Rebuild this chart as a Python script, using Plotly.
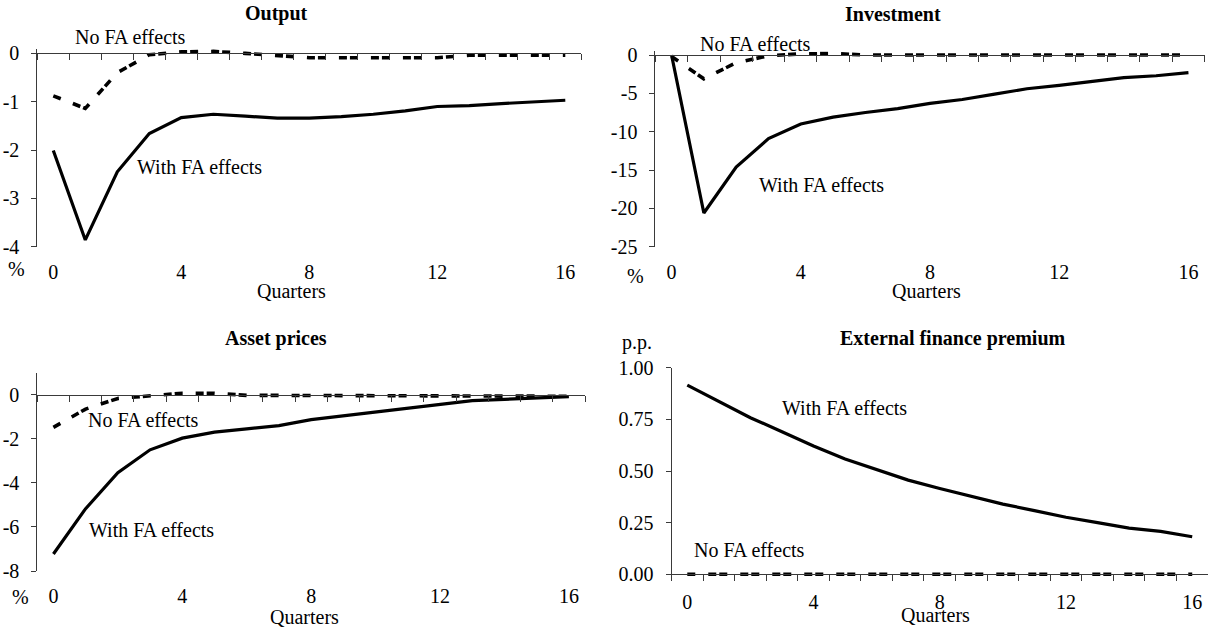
import plotly.graph_objects as go

W, H = 1208, 627
FONT = "Liberation Serif"
AXIS_COLOR = "#3a3a3a"

quarters = list(range(17))
x_tick_vals = [0, 4, 8, 12, 16]
x_tick_text = ["0", "4", "8", "12", "16"]
# category boundaries where the small ticks sit on the zero line
boundary_ticks = [q - 0.5 for q in range(18)]

# Output, % deviation
output_with_fa = [-2.01, -3.86, -2.45, -1.66, -1.33, -1.26, -1.30, -1.34, -1.34,
                  -1.31, -1.26, -1.19, -1.10, -1.08, -1.04, -1.01, -0.97]
output_no_fa = [-0.88, -1.14, -0.40, -0.03, 0.03, 0.04, 0.00, -0.05, -0.09,
                -0.09, -0.09, -0.09, -0.09, -0.04, -0.04, -0.04, -0.04]
output_y_ticks = [0, -1, -2, -3, -4]
output_y_text = ["0", "-1", "-2", "-3", "-4"]

# Investment, % deviation
invest_with_fa = [0.0, -20.6, -14.6, -10.9, -9.0, -8.1, -7.5, -7.0, -6.3,
                  -5.8, -5.1, -4.4, -3.95, -3.4, -2.95, -2.7, -2.3]
invest_no_fa = [-0.2, -3.1, -1.0, -0.1, 0.15, 0.2, 0.0, 0.0, 0.0,
                0.0, 0.0, 0.0, 0.0, 0.0, 0.0, 0.0, 0.0]
invest_y_ticks = [0, -5, -10, -15, -20, -25]
invest_y_text = ["0", "-5", "-10", "-15", "-20", "-25"]

# Asset prices, % deviation
asset_with_fa = [-7.23, -5.17, -3.54, -2.50, -1.97, -1.70, -1.55, -1.40, -1.13,
                 -0.96, -0.80, -0.62, -0.45, -0.27, -0.21, -0.15, -0.09]
asset_no_fa = [-1.48, -0.65, -0.17, -0.03, 0.07, 0.07, -0.03, -0.03, -0.03,
               -0.03, -0.03, -0.03, -0.03, -0.03, -0.05, -0.06, -0.07]
asset_y_ticks = [0, -2, -4, -6, -8]
asset_y_text = ["0", "-2", "-4", "-6", "-8"]

# External finance premium, percentage points
efp_with_fa = [0.916, 0.835, 0.758, 0.690, 0.621, 0.558, 0.508, 0.456, 0.415,
               0.376, 0.340, 0.308, 0.276, 0.250, 0.224, 0.208, 0.182]
efp_no_fa = [0.0, 0.0, 0.0, 0.0, 0.0, 0.0, 0.0, 0.0, 0.0,
             0.0, 0.0, 0.0, 0.0, 0.0, 0.0, 0.0, 0.0]
efp_y_ticks = [0, 0.25, 0.5, 0.75, 1.0]
efp_y_text = ["0.00", "0.25", "0.50", "0.75", "1.00"]

titles = ["Output", "Investment", "Asset prices", "External finance premium"]
label_with = "With FA effects"
label_no = "No FA effects"


def px_x(p):
    return p / W


def px_y(p):
    return 1 - p / H


panels = [
    dict(title=titles[0], solid=output_with_fa, dashed=output_no_fa,
         yticks=output_y_ticks, ytext=output_y_text, yrange=[-4, 0.1],
         xpx=(37.3, 581.3), ypx=(48.5, 246.7),
         title_at=(276, 13), unit="%", unit_at=(16, 269), quarters_at=(291, 291),
         with_at=(199, 167), no_at=(130, 37)),
    dict(title=titles[1], solid=invest_with_fa, dashed=invest_no_fa,
         yticks=invest_y_ticks, ytext=invest_y_text, yrange=[-25, 0.5],
         xpx=(655.4, 1204.6), ypx=(51.2, 246.7),
         title_at=(893, 14), unit="%", unit_at=(635, 276), quarters_at=(926, 291),
         with_at=(821, 185), no_at=(755, 44)),
    dict(title=titles[2], solid=asset_with_fa, dashed=asset_no_fa,
         yticks=asset_y_ticks, ytext=asset_y_text, yrange=[-8, 1],
         xpx=(37.3, 585.0), ypx=(372.7, 571.0),
         title_at=(276, 338), unit="%", unit_at=(20, 597), quarters_at=(304, 617),
         with_at=(151, 530), no_at=(143, 420)),
    dict(title=titles[3], solid=efp_with_fa, dashed=efp_no_fa,
         yticks=efp_y_ticks, ytext=efp_y_text, yrange=[-0.012, 1],
         xpx=(671.5, 1208.0), ypx=(367.7, 576.8),
         title_at=(953, 338), unit="p.p.", unit_at=(637, 342), quarters_at=(935, 615),
         with_at=(844, 408), no_at=(749, 550)),
]

fig = go.Figure()
layout = dict(
    width=W, height=H,
    margin=dict(l=0, r=0, t=0, b=0, pad=0, autoexpand=False),
    paper_bgcolor="white", plot_bgcolor="white",
    showlegend=False,
    font=dict(family=FONT, size=20, color="black"),
)
annotations = []


def paper_text(text, at, bold=False):
    return dict(
        text=f"<b>{text}</b>" if bold else text,
        xref="paper", yref="paper",
        x=px_x(at[0]), y=px_y(at[1]),
        xanchor="center", yanchor="middle", showarrow=False,
        font=dict(family=FONT, size=20, color="black"))


for i, p in enumerate(panels, start=1):
    base_x = f"x{i}"
    zero_x = f"x{i + 4}"
    yname = f"y{i}"
    xdom = [px_x(p["xpx"][0]), min(1.0, px_x(p["xpx"][1]))]
    ydom = [px_y(p["ypx"][1]), px_y(p["ypx"][0])]
    lo, hi = p["yrange"]
    zero_pos = ydom[0] + (0 - lo) / (hi - lo) * (ydom[1] - ydom[0])

    fig.add_trace(go.Scatter(
        x=quarters, y=p["solid"], mode="lines",
        line=dict(color="black", width=3.2),
        xaxis=base_x, yaxis=yname, hoverinfo="skip"))
    fig.add_trace(go.Scatter(
        x=quarters, y=p["dashed"], mode="lines",
        line=dict(color="black", width=3.6, dash="8px,13px,8px,3px"),
        xaxis=zero_x, yaxis=yname, hoverinfo="skip"))

    # labelled category axis along the bottom of the panel
    layout[f"xaxis{i}"] = dict(
        domain=xdom, anchor=yname, range=[-0.5, 16.5], automargin=False,
        showline=False, showgrid=False, zeroline=False,
        tickmode="array", tickvals=x_tick_vals, ticktext=x_tick_text,
        ticks="", ticklabelstandoff=11,
        tickfont=dict(family=FONT, size=20, color="black"),
    )
    # axis line with boundary ticks drawn through zero
    layout[f"xaxis{i + 4}"] = dict(
        overlaying=base_x, anchor="free", position=zero_pos, automargin=False,
        domain=xdom, range=[-0.5, 16.5],
        showline=True, linecolor=AXIS_COLOR, linewidth=1,
        showgrid=False, zeroline=False,
        tickmode="array", tickvals=boundary_ticks,
        ticks="outside", ticklen=6, tickcolor=AXIS_COLOR, tickwidth=1,
        showticklabels=False,
    )
    layout[f"yaxis{i}"] = dict(
        domain=ydom, anchor=base_x, range=p["yrange"], automargin=False,
        showline=True, linecolor=AXIS_COLOR, linewidth=1,
        showgrid=False, zeroline=False,
        tickmode="array", tickvals=p["yticks"], ticktext=p["ytext"],
        ticks="outside", ticklen=5, tickcolor=AXIS_COLOR, tickwidth=1,
        ticklabelstandoff=8,
        tickfont=dict(family=FONT, size=20, color="black"),
    )

    annotations.append(paper_text(p["title"], p["title_at"], bold=True))
    annotations.append(paper_text(p["unit"], p["unit_at"]))
    annotations.append(paper_text("Quarters", p["quarters_at"]))
    annotations.append(paper_text(label_with, p["with_at"]))
    annotations.append(paper_text(label_no, p["no_at"]))

layout["annotations"] = annotations
fig.update_layout(**layout)
fig.write_html("out.html")
